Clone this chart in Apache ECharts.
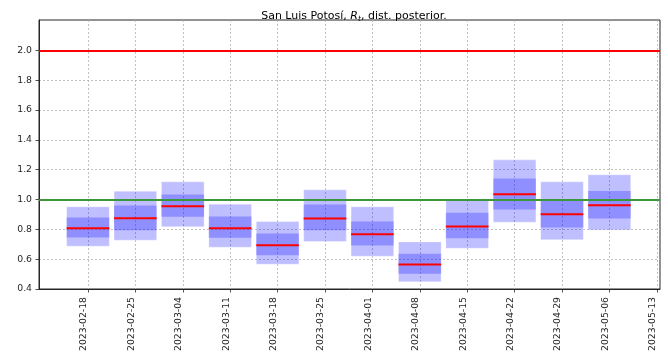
<!DOCTYPE html>
<html>
<head>
<meta charset="utf-8">
<script src="https://cdn.jsdelivr.net/npm/echarts@6/dist/echarts.min.js"></script>
<style>
  html, body { margin: 0; padding: 0; background: #fff; }
  #chart { width: 668px; height: 356px; }
</style>
</head>
<body>
<div id="chart"></div>
<script>
// Weekly posterior of R_t: 5%, 25%, 50%, 75%, 95% quantiles per week
const weeks = ['2023-02-18', '2023-02-25', '2023-03-04', '2023-03-11', '2023-03-18', '2023-03-25',
               '2023-04-01', '2023-04-08', '2023-04-15', '2023-04-22', '2023-04-29', '2023-05-06'];
const q05 = [0.687, 0.727, 0.817, 0.680, 0.566, 0.718, 0.620, 0.448, 0.673, 0.848, 0.730, 0.796];
const q25 = [0.745, 0.794, 0.884, 0.743, 0.626, 0.794, 0.691, 0.503, 0.740, 0.933, 0.812, 0.872];
const q50 = [0.807, 0.875, 0.955, 0.807, 0.693, 0.872, 0.767, 0.564, 0.819, 1.036, 0.901, 0.962];
const q75 = [0.879, 0.960, 1.034, 0.886, 0.772, 0.966, 0.852, 0.636, 0.911, 1.141, 0.996, 1.058];
const q95 = [0.951, 1.056, 1.119, 0.969, 0.852, 1.065, 0.951, 0.716, 0.995, 1.266, 1.119, 1.166];

// Axis ticks
const xTickDates = ['2023-02-18', '2023-02-25', '2023-03-04', '2023-03-11', '2023-03-18', '2023-03-25',
                    '2023-04-01', '2023-04-08', '2023-04-15', '2023-04-22', '2023-04-29', '2023-05-06',
                    '2023-05-13'];
const yTicks = [0.4, 0.6, 0.8, 1.0, 1.2, 1.4, 1.6, 1.8, 2.0];

// Reference levels: upper guide and epidemic threshold
const refLevels = [2.0, 1.0];

const DAY = 86400000;
const t0 = Date.parse(weeks[0]);
const dayOf = d => (Date.parse(d) - t0) / DAY;
const dateOf = v => new Date(t0 + Math.round(v) * DAY).toISOString().slice(0, 10);

const boxData = weeks.map((w, i) => [dayOf(w), q05[i], q25[i], q50[i], q75[i], q95[i]]);
const BOX_DAYS = 6.3;

const FONT = 'DejaVu Sans';
const INK = '#262626';

function renderBox(params, api) {
  const x = api.value(0);
  const lo = api.value(1), q1 = api.value(2), med = api.value(3), q3 = api.value(4), hi = api.value(5);
  const w = api.size([BOX_DAYS, 0])[0];
  const outerTop = api.coord([x, hi]);
  const outerBot = api.coord([x, lo]);
  const innerTop = api.coord([x, q3]);
  const innerBot = api.coord([x, q1]);
  const medPt = api.coord([x, med]);
  const left = outerTop[0] - w / 2;
  return {
    type: 'group',
    children: [
      { type: 'rect',
        shape: { x: left, y: outerTop[1], width: w, height: outerBot[1] - outerTop[1] },
        style: { fill: 'rgba(0,0,255,0.25)', stroke: 'rgba(255,255,255,0.35)', lineWidth: 1 } },
      { type: 'rect',
        shape: { x: left, y: innerTop[1], width: w, height: innerBot[1] - innerTop[1] },
        style: { fill: 'rgba(0,0,255,0.25)' } },
      { type: 'line',
        shape: { x1: left, y1: medPt[1], x2: left + w, y2: medPt[1] },
        style: { stroke: '#ff0000', lineWidth: 2 } }
    ]
  };
}

const chart = echarts.init(document.getElementById('chart'), null, { renderer: 'canvas' });

const titleRich = {
  a: { fontFamily: FONT, fontSize: 11, fontWeight: 'normal', color: '#000', lineHeight: 14, verticalAlign: 'middle' },
  i: { fontFamily: FONT, fontSize: 11, fontWeight: 'normal', fontStyle: 'italic', color: '#000', lineHeight: 14, verticalAlign: 'middle' },
  s: { fontFamily: FONT, fontSize: 7.5, fontWeight: 'normal', fontStyle: 'italic', color: '#000', lineHeight: 8, verticalAlign: 'bottom' }
};

chart.setOption({
  animation: false,
  backgroundColor: '#ffffff',
  title: {
    text: '{a|San Luis Potosí, }{i|R}{s|t}{a|, dist. posterior.}',
    left: 349, top: 4, textAlign: 'center',
    textStyle: { fontWeight: 'normal', fontFamily: FONT, fontSize: 11, rich: titleRich }
  },
  grid: {
    left: 39, top: 20, right: 8, bottom: 67,
    show: true, borderColor: INK, borderWidth: 1, backgroundColor: 'transparent'
  },
  xAxis: {
    type: 'value',
    min: -7.23, max: 84.47,
    axisLine: { show: true, onZero: false, lineStyle: { color: INK, width: 1 } },
    axisTick: { show: true, length: 3.5, lineStyle: { color: INK, width: 0.8 },
                customValues: xTickDates.map(dayOf) },
    axisLabel: {
      customValues: xTickDates.map(dayOf),
      rotate: 90, margin: 8,
      verticalAlign: 'bottom', lineHeight: 8,
      fontFamily: FONT, fontSize: 9.3, color: INK,
      formatter: v => dateOf(v)
    },
    splitLine: { show: true, lineStyle: { color: '#b0b0b0', width: 0.8, type: [2, 2] } }
  },
  yAxis: {
    type: 'value',
    min: 0.4, max: 2.204,
    axisLine: { show: true, onZero: false, lineStyle: { color: INK, width: 1 } },
    axisTick: { show: true, length: 3.5, lineStyle: { color: INK, width: 0.8 }, customValues: yTicks },
    axisLabel: {
      customValues: yTicks, margin: 7,
      fontFamily: FONT, fontSize: 9.3, color: INK,
      formatter: v => v.toFixed(1)
    },
    splitLine: { show: true, lineStyle: { color: '#b0b0b0', width: 0.8, type: [2, 2] } }
  },
  series: [
    {
      type: 'custom',
      renderItem: renderBox,
      data: boxData,
      encode: { x: 0, y: [1, 5] },
      z: 2
    },
    {
      type: 'line',
      data: [],
      z: 5,
      markLine: {
        silent: true,
        symbol: 'none',
        animation: false,
        label: { show: false },
        data: [
          { yAxis: refLevels[0], lineStyle: { color: '#ff0000', width: 2, type: 'solid' } },
          { yAxis: refLevels[1], lineStyle: { color: '#3c963c', width: 2, type: 'solid' } }
        ]
      }
    }
  ]
});
</script>
</body>
</html>
